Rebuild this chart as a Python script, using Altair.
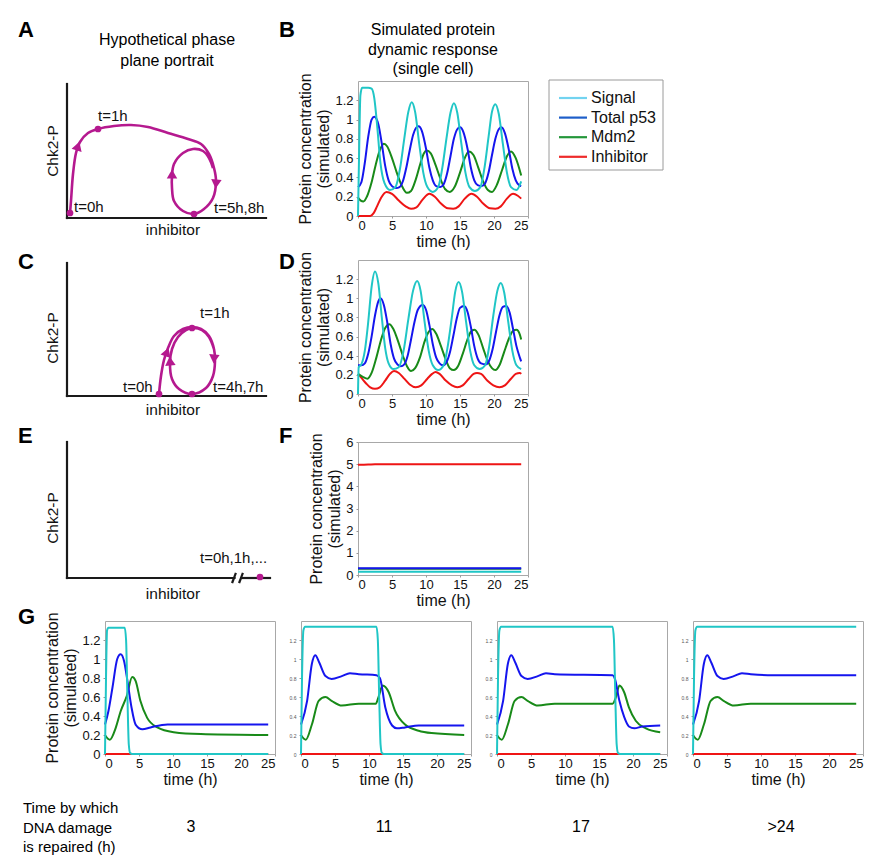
import altair as alt
import pandas as pd

FONT = "Liberation Sans"
SERIES = ["Signal", "Total p53", "Mdm2", "Inhibitor"]
DRAW_ORDER = ["Inhibitor", "Mdm2", "Total p53", "Signal"]
LINE_COLORS = ["#20c6c6", "#1515ee", "#188a18", "#ee1515"]
LEGEND_COLORS = ["#72d3f0", "#1d5ec9", "#24973a", "#ee2b2b"]
MAGENTA = "#b5198f"
FRAME = "#a8a8a8"

X_TICKS = [0, 5, 10, 15, 20, 25]
Y_TICKS = [0, 0.2, 0.4, 0.6, 0.8, 1, 1.2]
F_TICKS = [0, 1, 2, 3, 4, 5, 6]
Y_TITLE = ["Protein concentration", "(simulated)"]

# ---------------- Panel B (oscillating, single cell) ----------------
B_SIGNAL = [(0, 0), (0.15, 0.6), (0.35, 1.25), (0.6, 1.33), (1.5, 1.33), (2.0, 1.32), (2.4, 1.22), (2.8, 0.95),
            (3.3, 0.55), (3.9, 0.34), (4.7, 0.27), (5.5, 0.3), (6.2, 0.5), (6.8, 0.8), (7.4, 1.08), (7.9, 1.18),
            (8.4, 1.08), (9.0, 0.75), (9.6, 0.45), (10.2, 0.3), (11.0, 0.25), (11.8, 0.3), (12.4, 0.5),
            (13.0, 0.8), (13.6, 1.07), (14.1, 1.17), (14.6, 1.07), (15.2, 0.75), (15.8, 0.45), (16.4, 0.3),
            (17.2, 0.26), (18.0, 0.3), (18.6, 0.5), (19.2, 0.82), (19.7, 1.08), (20.2, 1.16), (20.7, 1.06),
            (21.3, 0.75), (21.9, 0.45), (22.5, 0.3), (23.3, 0.27), (24.0, 0.36)]
B_P53 = [(0, 0.30), (0.5, 0.35), (1.0, 0.55), (1.5, 0.82), (2.0, 1.0), (2.4, 1.03), (3.0, 0.95), (3.5, 0.75),
         (4.0, 0.52), (4.5, 0.37), (5.0, 0.31), (5.6, 0.29), (6.1, 0.30), (6.6, 0.36), (7.1, 0.50), (7.6, 0.68),
         (8.1, 0.84), (8.5, 0.91), (8.9, 0.93), (9.4, 0.88), (10.0, 0.70), (10.5, 0.50), (11.0, 0.37),
         (11.5, 0.31), (12.1, 0.30), (12.6, 0.33), (13.1, 0.44), (13.6, 0.62), (14.1, 0.80), (14.6, 0.90),
         (15.0, 0.92), (15.5, 0.87), (16.1, 0.70), (16.6, 0.50), (17.1, 0.37), (17.6, 0.32), (18.2, 0.31),
         (18.7, 0.34), (19.2, 0.45), (19.7, 0.63), (20.2, 0.80), (20.7, 0.90), (21.1, 0.92), (21.6, 0.86),
         (22.2, 0.68), (22.7, 0.49), (23.2, 0.37), (23.7, 0.32), (24.0, 0.31)]
B_MDM2 = [(0, 0.19), (0.4, 0.16), (0.8, 0.15), (1.3, 0.20), (2.0, 0.35), (2.6, 0.53), (3.2, 0.68), (3.8, 0.75),
          (4.3, 0.72), (5.0, 0.60), (5.7, 0.45), (6.4, 0.32), (7.2, 0.24), (7.8, 0.26), (8.5, 0.38), (9.2, 0.55),
          (9.7, 0.65), (10.1, 0.68), (10.7, 0.65), (11.4, 0.53), (12.1, 0.39), (12.8, 0.28), (13.5, 0.25),
          (14.2, 0.30), (15.0, 0.45), (15.7, 0.60), (16.3, 0.67), (17.0, 0.63), (17.7, 0.50), (18.4, 0.36),
          (19.1, 0.27), (19.7, 0.25), (20.4, 0.32), (21.2, 0.48), (21.9, 0.62), (22.5, 0.67), (23.2, 0.60),
          (24.0, 0.42)]
B_INHIB = [(0, 0), (1.8, 0), (2.3, 0.03), (2.8, 0.10), (3.4, 0.19), (4.2, 0.25), (5.0, 0.23), (6.0, 0.16),
           (7.0, 0.10), (7.8, 0.075), (8.6, 0.09), (9.5, 0.17), (10.5, 0.23), (11.3, 0.20), (12.2, 0.13),
           (13.2, 0.08), (14.0, 0.075), (14.8, 0.10), (15.7, 0.18), (16.7, 0.23), (17.5, 0.20), (18.4, 0.13),
           (19.4, 0.08), (20.2, 0.075), (21.0, 0.10), (21.9, 0.18), (22.8, 0.23), (23.5, 0.21), (24.0, 0.18)]

# ---------------- Panel D ----------------
D_SIGNAL = [(0, 0), (0.1, 0.28), (0.5, 0.31), (1.0, 0.45), (1.5, 0.75), (2.0, 1.12), (2.5, 1.28), (3.0, 1.15),
            (3.5, 0.80), (4.0, 0.48), (4.5, 0.32), (5.2, 0.26), (6.0, 0.28), (6.7, 0.45), (7.4, 0.78),
            (8.1, 1.08), (8.7, 1.18), (9.2, 1.08), (9.8, 0.75), (10.4, 0.45), (11.0, 0.30), (11.8, 0.25),
            (12.6, 0.30), (13.2, 0.50), (13.8, 0.80), (14.3, 1.07), (14.8, 1.17), (15.3, 1.07), (15.9, 0.75),
            (16.5, 0.45), (17.1, 0.30), (17.9, 0.26), (18.7, 0.30), (19.3, 0.50), (19.9, 0.82), (20.5, 1.08),
            (21.0, 1.16), (21.5, 1.06), (22.1, 0.75), (22.7, 0.45), (23.3, 0.30), (24.0, 0.26)]
D_P53 = [(0, 0.30), (0.5, 0.30), (1.0, 0.32), (1.5, 0.42), (2.0, 0.60), (2.5, 0.82), (3.0, 0.97), (3.3, 1.0),
         (3.8, 0.93), (4.3, 0.75), (4.8, 0.52), (5.3, 0.37), (5.8, 0.31), (6.3, 0.29), (6.8, 0.31), (7.3, 0.40),
         (7.8, 0.57), (8.3, 0.75), (8.8, 0.88), (9.5, 0.93), (10.0, 0.88), (10.5, 0.72), (11.0, 0.52),
         (11.5, 0.38), (12.0, 0.32), (12.5, 0.30), (13.0, 0.33), (13.5, 0.43), (14.0, 0.60), (14.5, 0.78),
         (15.0, 0.90), (15.6, 0.92), (16.1, 0.86), (16.6, 0.70), (17.1, 0.50), (17.6, 0.37), (18.1, 0.32),
         (18.8, 0.31), (19.3, 0.35), (19.8, 0.47), (20.3, 0.65), (20.8, 0.82), (21.3, 0.91), (21.8, 0.92),
         (22.3, 0.85), (22.8, 0.68), (23.3, 0.50), (23.8, 0.38), (24.0, 0.34)]
D_MDM2 = [(0, 0.21), (0.7, 0.18), (1.4, 0.16), (2.0, 0.22), (2.7, 0.38), (3.4, 0.57), (4.0, 0.69), (4.6, 0.73),
          (5.2, 0.68), (5.9, 0.55), (6.6, 0.40), (7.2, 0.29), (7.8, 0.24), (8.4, 0.27), (9.1, 0.38), (9.8, 0.55),
          (10.4, 0.65), (10.9, 0.68), (11.5, 0.63), (12.2, 0.50), (12.9, 0.36), (13.5, 0.27), (14.1, 0.25),
          (14.7, 0.29), (15.4, 0.42), (16.1, 0.57), (16.6, 0.65), (17.1, 0.67), (17.7, 0.62), (18.4, 0.48),
          (19.1, 0.34), (19.7, 0.27), (20.2, 0.25), (20.8, 0.30), (21.5, 0.44), (22.2, 0.58), (22.8, 0.66),
          (23.3, 0.67), (23.8, 0.62), (24.0, 0.57)]
D_INHIB = [(0, 0.21), (0.6, 0.16), (1.2, 0.11), (1.8, 0.07), (2.5, 0.055), (3.2, 0.07), (4.0, 0.14), (4.7, 0.21),
           (5.3, 0.24), (6.0, 0.22), (6.8, 0.16), (7.6, 0.10), (8.5, 0.07), (9.3, 0.09), (10.2, 0.16),
           (10.9, 0.21), (11.4, 0.23), (12.0, 0.21), (12.9, 0.14), (13.8, 0.09), (14.6, 0.07), (15.4, 0.09),
           (16.3, 0.16), (17.0, 0.21), (17.5, 0.22), (18.1, 0.21), (19.0, 0.14), (19.9, 0.09), (20.8, 0.07),
           (21.6, 0.09), (22.5, 0.16), (23.2, 0.21), (23.8, 0.22), (24.0, 0.21)]

# ---------------- Panel F (high inhibitor) ----------------
F_SIGNAL = [(0, 0.15), (24, 0.15)]
F_P53 = [(0, 0.30), (24, 0.30)]
F_MDM2 = [(0, 0.28), (24, 0.28)]
F_INHIB = [(0, 4.97), (1.5, 4.98), (2.5, 5.0), (24, 5.0)]

# ---------------- Panel G (damage repaired at 3, 11, 17, >24 h) ----------------
G1_SIGNAL = [(0, 0), (0.15, 0.8), (0.3, 1.3), (0.5, 1.33), (2.9, 1.33), (3.1, 1.2), (3.3, 0.6), (3.5, 0.1),
             (3.7, 0.01), (4.0, 0), (24, 0)]
G1_P53 = [(0, 0.31), (0.5, 0.45), (1.1, 0.70), (1.8, 1.0), (2.3, 1.05), (2.8, 0.98), (3.3, 0.77), (3.9, 0.49),
          (4.5, 0.31), (5.5, 0.26), (6.7, 0.28), (9.2, 0.31), (12, 0.31), (24, 0.31)]
G1_MDM2 = [(0, 0.20), (0.7, 0.15), (1.6, 0.28), (2.3, 0.45), (3.2, 0.61), (4.0, 0.81), (4.5, 0.77), (5.2, 0.56),
           (6.2, 0.38), (7.7, 0.28), (10.1, 0.23), (14.1, 0.21), (24, 0.20)]
G1_INHIB = [(0, 0), (24, 0)]

G2_SIGNAL = [(0, 0), (0.15, 0.8), (0.35, 1.3), (0.6, 1.34), (11.1, 1.34), (11.3, 1.2), (11.5, 0.6), (11.7, 0.1),
             (11.9, 0.01), (12.2, 0), (24, 0)]
G2_P53 = [(0, 0.31), (0.9, 0.56), (1.6, 0.95), (2.1, 1.04), (2.7, 0.96), (3.6, 0.82), (4.5, 0.79), (6.0, 0.82),
          (7.2, 0.85), (8.5, 0.84), (11.1, 0.83), (11.6, 0.80), (12.4, 0.49), (13.4, 0.30), (14.1, 0.27),
          (15.3, 0.28), (17.3, 0.30), (24, 0.30)]
G2_MDM2 = [(0, 0.20), (0.7, 0.15), (1.6, 0.31), (2.6, 0.56), (3.6, 0.60), (4.5, 0.56), (6.0, 0.51), (8.5, 0.53),
           (11.0, 0.53), (11.4, 0.60), (12.0, 0.72), (12.9, 0.65), (13.8, 0.46), (15.3, 0.31), (17.3, 0.245),
           (19.2, 0.22), (24, 0.20)]
G2_INHIB = [(0, 0), (24, 0)]

G3_SIGNAL = [(0, 0), (0.15, 0.8), (0.35, 1.3), (0.6, 1.34), (17.0, 1.34), (17.2, 1.2), (17.4, 0.6), (17.6, 0.1),
             (17.8, 0.01), (18.1, 0), (24, 0)]
G3_P53 = [(0, 0.31), (0.9, 0.56), (1.6, 0.95), (2.1, 1.04), (2.7, 0.96), (3.6, 0.82), (4.5, 0.79), (6.0, 0.82),
          (7.2, 0.85), (8.5, 0.84), (17.0, 0.83), (17.3, 0.80), (18.0, 0.56), (18.7, 0.39), (19.4, 0.29),
          (20.2, 0.27), (21.4, 0.29), (24, 0.30)]
G3_MDM2 = [(0, 0.20), (0.7, 0.15), (1.6, 0.31), (2.6, 0.56), (3.6, 0.60), (4.5, 0.56), (6.0, 0.51), (8.5, 0.53),
           (17.0, 0.53), (17.5, 0.60), (18.0, 0.72), (18.7, 0.65), (19.4, 0.49), (20.4, 0.35), (21.9, 0.27),
           (24, 0.23)]
G3_INHIB = [(0, 0), (24, 0)]

G4_SIGNAL = [(0, 0), (0.15, 0.8), (0.35, 1.3), (0.6, 1.34), (24, 1.34)]
G4_P53 = [(0, 0.31), (0.9, 0.56), (1.6, 0.95), (2.1, 1.04), (2.7, 0.96), (3.6, 0.82), (4.5, 0.79), (6.0, 0.82),
          (7.2, 0.85), (8.5, 0.84), (11.0, 0.83), (24, 0.83)]
G4_MDM2 = [(0, 0.20), (0.7, 0.15), (1.6, 0.31), (2.6, 0.56), (3.6, 0.60), (4.5, 0.56), (6.0, 0.51), (8.5, 0.53),
           (11.0, 0.53), (24, 0.53)]
G4_INHIB = [(0, 0), (24, 0)]

REPAIR_TIMES = ["3", "11", "17", ">24"]

# ---------------- Phase portraits (schematic) ----------------
A_AXES = [(0, 0, 0, 134), (0, 0, 199, 0)]
A_PATH = [(3, 5), (4, 17), (6, 44), (9, 65), (13, 76), (21, 85), (31, 89), (47, 92), (64, 93), (81, 91),
          (101, 85), (121, 79), (134, 74), (142, 64), (147, 50), (149, 37), (146, 20), (137, 9), (127, 4),
          (116, 7), (107, 17), (105, 30), (105, 42), (107, 54), (116, 65), (126, 69), (136, 67), (142, 60),
          (146, 50)]
A_DOTS = [(3, 5), (31, 89), (127, 4)]
A_ARROWS = [(11, 72, 18), (149, 34, 185), (105, 44, 0)]
A_LABELS = [(31, 102, "t=1h"), (7, 11, "t=0h"), (147, 10, "t=5h,8h")]

C_AXES = [(0, 0, 0, 133), (0, 0, 199, 0)]
C_PATH = [(92, 2), (94, 20), (97, 36), (101, 48), (107, 60), (116, 67), (125, 69), (134, 67), (142, 60),
          (147, 47), (148, 35), (146, 20), (139, 8), (125, 2), (112, 7), (105, 17), (103, 33), (105, 47),
          (111, 59), (119, 66), (126, 68), (135, 66), (142, 59), (147, 47)]
C_DOTS = [(92, 2), (125, 68), (125, 2)]
C_ARROWS = [(100, 44, 20), (103, 35, 355), (147, 37, 185)]
C_LABELS = [(133, 83, "t=1h"), (56, 9, "t=0h"), (146, 9, "t=4h,7h")]

E_AXES = [(0, 0, 0, 136), (0, 0, 167.5, 0), (174.5, 0, 203, 0), (165.5, -4, 168.5, 4), (172.5, -4, 175.5, 4)]
E_DOTS = [(193, 1)]
E_LABELS = [(133, 20, "t=0h,1h,...")]

ONE = pd.DataFrame({"z": [0]})


def series_df(d):
    rows = []
    for name in DRAW_ORDER:
        for t, v in d[name]:
            rows.append({"t": t, "v": v, "s": name})
    return pd.DataFrame(rows)


def txt(text, x, y, size=16, align="center", baseline="middle", weight="normal", angle=0, color="black",
        line_height=20):
    return alt.Chart(ONE).mark_text(
        text=text, font=FONT, fontSize=size, align=align, baseline=baseline, fontWeight=weight,
        angle=angle, color=color, lineHeight=line_height
    ).encode(x=alt.value(x), y=alt.value(y))


def ts_panel(d, ymax, yticks, width, height, small=False, ytitle=True, extra=()):
    df = series_df(d)
    yaxis = dict(values=yticks, format="~g", tickSize=2, labelPadding=3,
                 labelFontSize=5 if small else 13, labelColor="#555" if small else "#111",
                 titlePadding=3)
    if ytitle:
        yaxis["title"] = Y_TITLE
    else:
        yaxis["title"] = None
    lines = alt.Chart(df).mark_line(strokeWidth=2, interpolate="monotone").encode(
        x=alt.X("t:Q", scale=alt.Scale(domain=[0, 25], nice=False),
                axis=alt.Axis(values=X_TICKS, title="time (h)", tickSize=2, labelPadding=1,
                              labelFontSize=13, titlePadding=1)),
        y=alt.Y("v:Q", scale=alt.Scale(domain=[0, ymax], nice=False), axis=alt.Axis(**yaxis)),
        color=alt.Color("s:N", scale=alt.Scale(domain=SERIES, range=LINE_COLORS), legend=None),
    )
    return alt.layer(lines, *extra).properties(
        width=width, height=height, view=alt.ViewBackground(stroke=FRAME, strokeWidth=1))


def phase_panel(height, ymin, axes, path, dots, arrows, labels, ylab_y, xlab_y, extra=()):
    xs = alt.Scale(domain=[0, 265], nice=False, zero=False)
    ys = alt.Scale(domain=[ymin, ymin + height], nice=False, zero=False)
    X = alt.X("x:Q", scale=xs, axis=None)
    Y = alt.Y("y:Q", scale=ys, axis=None)
    layers = []
    adf = pd.DataFrame(axes, columns=["x", "y", "x2", "y2"])
    layers.append(alt.Chart(adf).mark_rule(color="#1a1a1a", strokeWidth=2.2, strokeCap="square").encode(
        x=X, y=Y, x2="x2:Q", y2="y2:Q"))
    if path:
        pdf = pd.DataFrame(path, columns=["x", "y"])
        pdf["i"] = range(len(pdf))
        layers.append(alt.Chart(pdf).mark_line(color=MAGENTA, strokeWidth=2.6, interpolate="catmull-rom").encode(
            x=X, y=Y, order="i:Q"))
    if arrows:
        rdf = pd.DataFrame(arrows, columns=["x", "y", "a"])
        layers.append(alt.Chart(rdf).mark_point(shape="triangle-up", filled=True, color=MAGENTA, size=110,
                                                opacity=1).encode(
            x=X, y=Y, angle=alt.Angle("a:Q", scale=None)))
    ddf = pd.DataFrame(dots, columns=["x", "y"])
    layers.append(alt.Chart(ddf).mark_circle(color=MAGENTA, size=45, opacity=1).encode(x=X, y=Y))
    ldf = pd.DataFrame(labels, columns=["x", "y", "label"])
    layers.append(alt.Chart(ldf).mark_text(font=FONT, fontSize=15, align="left", baseline="middle",
                                           color="#111").encode(x=X, y=Y, text="label:N"))
    tdf = pd.DataFrame([(-14, ylab_y, "Chk2-P", 270), (106, xlab_y, "inhibitor", 0)],
                       columns=["x", "y", "label", "a"])
    layers.append(alt.Chart(tdf).mark_text(font=FONT, fontSize=15.5, align="center", baseline="middle",
                                           color="#111").encode(
        x=X, y=Y, text="label:N", angle=alt.Angle("a:Q", scale=None)))
    return alt.layer(*layers, *extra).properties(width=265, height=height)


def pad(letter, width, yoff):
    return txt(letter, 0, yoff, size=22, align="left", weight="bold").properties(width=width, height=1)


def blank(w, h):
    return txt(" ", 0, 0, size=1).properties(width=w, height=h)


# legend drawn next to panel B
legend_layers = [
    alt.Chart(ONE).mark_rect(fill="white", stroke="#9a9a9a", strokeWidth=1).encode(
        x=alt.value(191), x2=alt.value(305), y=alt.value(-1), y2=alt.value(89))
]
for k, name in enumerate(SERIES):
    yy = 17 + k * 19.6
    legend_layers.append(alt.Chart(ONE).mark_rule(color=LEGEND_COLORS[k], strokeWidth=2.2).encode(
        x=alt.value(201), x2=alt.value(229), y=alt.value(yy)))
    legend_layers.append(txt(name, 233, yy, size=16, align="left", color="#111"))

# row tops (page px): 80, 259, 441, 620, 795 ; row spacing 42
panel_a = phase_panel(137, 0, A_AXES, A_PATH, A_DOTS, A_ARROWS, A_LABELS, 67, -12,
                      extra=[txt(["Hypothetical phase", "plane portrait"], 100, -41, size=16, line_height=21)])
panel_b = ts_panel({"Signal": B_SIGNAL, "Total p53": B_P53, "Mdm2": B_MDM2, "Inhibitor": B_INHIB},
                   1.4, Y_TICKS, 170, 135,
                   extra=[txt("B", -79, -51, size=22, align="left", weight="bold"),
                          txt(["Simulated protein", "dynamic response", "(single cell)"], 75, -51, size=16,
                              line_height=19.5)] + legend_layers)

panel_c = phase_panel(140, -4, C_AXES, C_PATH, C_DOTS, C_ARROWS, C_LABELS, 58, -14)
panel_d = ts_panel({"Signal": D_SIGNAL, "Total p53": D_P53, "Mdm2": D_MDM2, "Inhibitor": D_INHIB},
                   1.4, Y_TICKS, 170, 134, extra=[txt("D", -79, 2, size=22, align="left", weight="bold")])

panel_e = phase_panel(137, -1, E_AXES, None, E_DOTS, None, E_LABELS, 60, -16)
panel_f = ts_panel({"Signal": F_SIGNAL, "Total p53": F_P53, "Mdm2": F_MDM2, "Inhibitor": F_INHIB},
                   6, F_TICKS, 170, 133, extra=[txt("F", -79, -6, size=22, align="left", weight="bold")])

g1 = ts_panel({"Signal": G1_SIGNAL, "Total p53": G1_P53, "Mdm2": G1_MDM2, "Inhibitor": G1_INHIB},
              1.4, Y_TICKS, 170, 133)
g2 = ts_panel({"Signal": G2_SIGNAL, "Total p53": G2_P53, "Mdm2": G2_MDM2, "Inhibitor": G2_INHIB},
              1.4, Y_TICKS, 170, 133, small=True, ytitle=False)
g3 = ts_panel({"Signal": G3_SIGNAL, "Total p53": G3_P53, "Mdm2": G3_MDM2, "Inhibitor": G3_INHIB},
              1.4, Y_TICKS, 170, 133, small=True, ytitle=False)
g4 = ts_panel({"Signal": G4_SIGNAL, "Total p53": G4_P53, "Mdm2": G4_MDM2, "Inhibitor": G4_INHIB},
              1.4, Y_TICKS, 170, 133, small=True, ytitle=False)
g_row = alt.hconcat(pad("G", 61, -4), g1, g2, g3, g4, spacing=26, bounds="flush")

bottom_layers = [txt(["Time by which", "DNA damage", "is repaired (h)"], 5, 12, size=15, align="left",
                     line_height=19.5)]
for xpos, lab in zip([173, 366, 563, 763], REPAIR_TIMES):
    bottom_layers.append(txt(lab, xpos, 31, size=16))
bottom = alt.layer(*bottom_layers).properties(width=23, height=50)

chart = alt.concat(
    pad("A", 23, -51), panel_a, panel_b,
    pad("C", 23, 2), panel_c, panel_d,
    pad("E", 23, -6), panel_e, panel_f,
    g_row, blank(1, 133), blank(1, 1),
    bottom,
    columns=3,
    spacing={"row": 42, "column": 26},
    bounds="flush",
    align="each",
).properties(
    padding={"left": 9, "top": 10, "right": 2, "bottom": 0}
).configure(font=FONT).configure_view(stroke="transparent").configure_axis(
    grid=False, domain=False, tickColor="#9a9a9a", labelFont=FONT, labelColor="#111",
    titleFont=FONT, titleFontSize=16, titleFontWeight="normal", titleColor="#111"
)

chart.save("out.html", embed_options={"renderer": "svg", "actions": False})
